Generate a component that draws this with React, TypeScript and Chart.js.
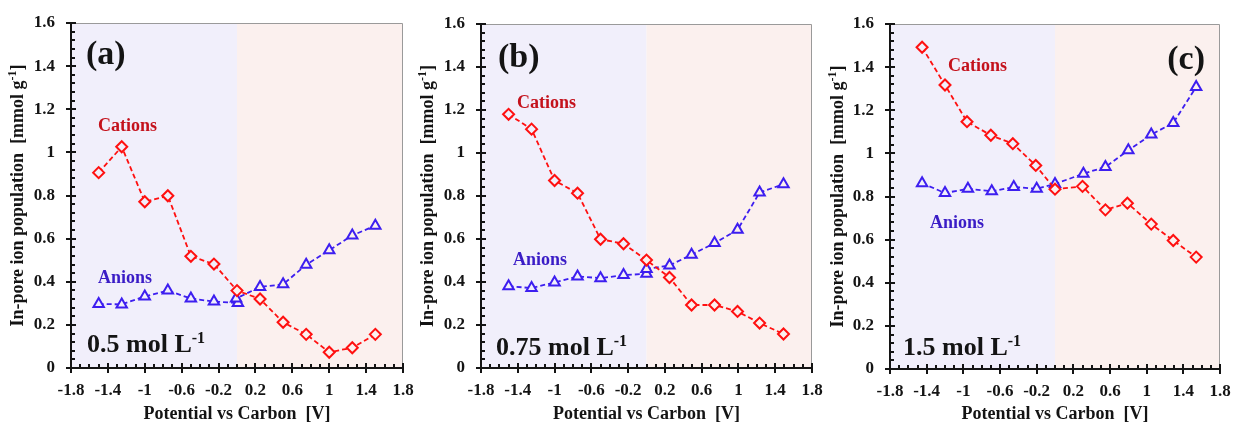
import React, { useEffect, useRef } from 'react';
import { Chart, registerables } from 'chart.js';

Chart.register(...registerables);

const SERIF = "'Liberation Serif', 'Times New Roman', serif";

// ---- Data: in-pore ion population [mmol/g] vs potential [V] ----

// (a) 0.5 mol/L
const cationPotentialA = [-1.5, -1.25, -1, -0.75, -0.5, -0.25, 0, 0.25, 0.5, 0.75, 1, 1.25, 1.5];
const cationPopulationA = [0.906, 1.026, 0.771, 0.799, 0.518, 0.482, 0.359, 0.32, 0.212, 0.156, 0.073, 0.094, 0.156];
const anionPotentialA = [-1.5, -1.25, -1, -0.75, -0.5, -0.25, 0.01, -0.01, 0.25, 0.5, 0.75, 1, 1.25, 1.5];
const anionPopulationA = [0.297, 0.295, 0.332, 0.359, 0.322, 0.308, 0.302, 0.322, 0.376, 0.388, 0.479, 0.546, 0.615, 0.66];

// (b) 0.75 mol/L
const cationPotentialB = [-1.5, -1.25, -1, -0.75, -0.5, -0.25, 0, 0.25, 0.49, 0.74, 0.99, 1.23, 1.49];
const cationPopulationB = [1.18, 1.111, 0.872, 0.813, 0.599, 0.578, 0.502, 0.421, 0.293, 0.293, 0.263, 0.209, 0.158];
const anionPotentialB = [-1.5, -1.25, -1, -0.75, -0.5, -0.25, 0, 0, 0.25, 0.49, 0.74, 0.99, 1.23, 1.49];
const anionPopulationB = [0.38, 0.372, 0.398, 0.426, 0.418, 0.432, 0.438, 0.461, 0.477, 0.527, 0.581, 0.643, 0.816, 0.855];

// (c) 1.5 mol/L
const cationPotentialC = [-1.45, -1.2, -0.96, -0.7, -0.46, -0.21, 0, 0.3, 0.55, 0.79, 1.05, 1.29, 1.54];
const cationPopulationC = [1.492, 1.317, 1.147, 1.084, 1.045, 0.944, 0.834, 0.847, 0.738, 0.769, 0.672, 0.596, 0.519];
const anionPotentialC = [-1.45, -1.2, -0.95, -0.69, -0.45, -0.2, 0, 0.31, 0.55, 0.8, 1.05, 1.29, 1.54];
const anionPopulationC = [0.862, 0.816, 0.836, 0.824, 0.844, 0.836, 0.858, 0.906, 0.937, 1.014, 1.087, 1.141, 1.308];

// ---- Text ----
const panelLetters = ['(a)', '(b)', '(c)'];
const concentrations = ['0.5', '0.75', '1.5'];
const seriesNames = ['Cations', 'Anions'];
const xTitle = 'Potential vs Carbon  [V]';
const yTitleBase = 'In-pore ion population  [mmol g';
const yTitleSup = '-1';
const yTitleEnd = ']';

// ---- Axis ranges ----
const X_MIN = -1.8, X_MAX = 1.8, X_STEP = 0.4, X_MINOR = 0.1;
const Y_MIN = 0, Y_MAX = 1.6, Y_STEP = 0.2, Y_MINOR = 0.04;

// ---- Styling ----
const RED = '#ff1010';
const BLUE = '#3d1ef0';
const CATION_TEXT = '#c4121c';
const ANION_TEXT = '#3a1cc6';
const LAVENDER = '#f1effb';
const PINK = '#fbf0ee';
const INK = '#141414';

type PanelLayout = {
  left: number; width: number; axisWidth: number; top: number; right: number; xAxisHeight: number;
  cation: [number, number]; anion: [number, number];
  letter: [number, number]; letterAlign: CanvasTextAlign; conc: [number, number];
};

// canvases overlap a little so the last x tick label of a panel is not cut off
const layouts: PanelLayout[] = [
  { left: 0, width: 424, axisWidth: 71, top: 23, right: 21, xAxisHeight: 57,
    cation: [27, 103], anion: [27, 255], letter: [15, 32], letterAlign: 'left', conc: [16, 329] },
  { left: 410, width: 424, axisWidth: 71, top: 24, right: 22, xAxisHeight: 57,
    cation: [36, 79], anion: [32, 236], letter: [17, 34], letterAlign: 'left', conc: [15, 331] },
  { left: 820, width: 414, axisWidth: 70, top: 24, right: 14, xAxisHeight: 56,
    cation: [58, 42], anion: [40, 199], letter: [315, 36], letterAlign: 'right', conc: [13, 331] },
];

const panelSeries = [
  { cx: cationPotentialA, cy: cationPopulationA, ax: anionPotentialA, ay: anionPopulationA },
  { cx: cationPotentialB, cy: cationPopulationB, ax: anionPotentialB, ay: anionPopulationB },
  { cx: cationPotentialC, cy: cationPopulationC, ax: anionPotentialC, ay: anionPopulationC },
];

const toPoints = (xs: number[], ys: number[]) => xs.map((x, i) => ({ x, y: ys[i] }));

const fmt = (v: number) => String(Math.round(v * 100) / 100);

// keep the plot box fixed: no extra room reserved for overhanging tick labels
const pinScale = (sc: any) => {
  sc.paddingLeft = 0;
  sc.paddingRight = 0;
  sc.paddingTop = 0;
  sc.paddingBottom = 0;
};

function decorPlugin(idx: number) {
  const lay = layouts[idx];
  return {
    id: 'panelDecor',
    beforeDatasetsDraw(chart: any) {
      const { ctx, chartArea: a, scales } = chart;
      const x0 = scales.x.getPixelForValue(0);
      ctx.save();
      ctx.fillStyle = LAVENDER;
      ctx.fillRect(a.left, a.top, x0 - a.left, a.bottom - a.top);
      ctx.fillStyle = PINK;
      ctx.fillRect(x0, a.top, a.right - x0, a.bottom - a.top);
      ctx.restore();
    },
    afterDatasetsDraw(chart: any) {
      const { ctx, chartArea: a, scales } = chart;
      const xs = scales.x, ys = scales.y;
      ctx.save();

      // frame: light top/right, heavy left/bottom axes
      ctx.strokeStyle = '#9a9a9a';
      ctx.lineWidth = 1;
      ctx.beginPath();
      ctx.moveTo(a.left, a.top + 0.5);
      ctx.lineTo(a.right - 0.5, a.top + 0.5);
      ctx.lineTo(a.right - 0.5, a.bottom);
      ctx.stroke();

      ctx.strokeStyle = INK;
      ctx.lineWidth = 2;
      ctx.beginPath();
      ctx.moveTo(a.left, a.top);
      ctx.lineTo(a.left, a.bottom);
      ctx.lineTo(a.right, a.bottom);
      ctx.stroke();

      // y ticks
      const nY = Math.round((Y_MAX - Y_MIN) / Y_MINOR);
      for (let i = 0; i <= nY; i++) {
        const v = Y_MIN + i * Y_MINOR;
        const py = Math.round(ys.getPixelForValue(v));
        const major = i % Math.round(Y_STEP / Y_MINOR) === 0;
        ctx.lineWidth = 2;
        ctx.beginPath();
        ctx.moveTo(major ? a.left - 5 : a.left, py);
        ctx.lineTo(a.left + (major ? 5 : 4), py);
        ctx.stroke();
      }
      // x ticks
      const nX = Math.round((X_MAX - X_MIN) / X_MINOR);
      for (let i = 0; i <= nX; i++) {
        const v = X_MIN + i * X_MINOR;
        const px = Math.round(xs.getPixelForValue(v));
        const major = i % Math.round(X_STEP / X_MINOR) === 0;
        ctx.lineWidth = 2;
        ctx.beginPath();
        ctx.moveTo(px, major ? a.bottom + 5 : a.bottom);
        ctx.lineTo(px, a.bottom - (major ? 5 : 4));
        ctx.stroke();
      }

      // y title with superscript
      ctx.save();
      ctx.translate(18, (a.top + a.bottom) / 2);
      ctx.rotate(-Math.PI / 2);
      ctx.fillStyle = INK;
      ctx.textBaseline = 'middle';
      ctx.textAlign = 'left';
      const baseFont = `bold 18px ${SERIF}`;
      const supFont = `bold 12px ${SERIF}`;
      ctx.font = baseFont;
      const wBase = ctx.measureText(yTitleBase).width;
      const wEnd = ctx.measureText(yTitleEnd).width;
      ctx.font = supFont;
      const wSup = ctx.measureText(yTitleSup).width;
      let tx = -(wBase + wSup + wEnd) / 2;
      ctx.font = baseFont;
      ctx.fillText(yTitleBase, tx, 0);
      tx += wBase;
      ctx.font = supFont;
      ctx.fillText(yTitleSup, tx, -5);
      tx += wSup;
      ctx.font = baseFont;
      ctx.fillText(yTitleEnd, tx, 0);
      ctx.restore();

      // series labels
      ctx.textBaseline = 'middle';
      ctx.textAlign = 'left';
      ctx.font = `bold 18px ${SERIF}`;
      ctx.fillStyle = CATION_TEXT;
      ctx.fillText(seriesNames[0], a.left + lay.cation[0], a.top + lay.cation[1]);
      ctx.fillStyle = ANION_TEXT;
      ctx.fillText(seriesNames[1], a.left + lay.anion[0], a.top + lay.anion[1]);

      // panel letter
      ctx.fillStyle = INK;
      ctx.font = `bold 34px ${SERIF}`;
      ctx.textAlign = lay.letterAlign;
      ctx.fillText(panelLetters[idx], a.left + lay.letter[0], a.top + lay.letter[1]);

      // concentration with superscript unit
      ctx.textAlign = 'left';
      ctx.textBaseline = 'alphabetic';
      const cx = a.left + lay.conc[0];
      const cy = a.top + lay.conc[1];
      const cText = `${concentrations[idx]} mol L`;
      ctx.font = `bold 26px ${SERIF}`;
      ctx.fillText(cText, cx, cy);
      const cw = ctx.measureText(cText).width;
      ctx.font = `bold 16px ${SERIF}`;
      ctx.fillText('-1', cx + cw, cy - 9);

      ctx.restore();
    },
  };
}

function Panel({ idx }: { idx: number }) {
  const ref = useRef<HTMLCanvasElement | null>(null);
  useEffect(() => {
    if (!ref.current) return;
    const lay = layouts[idx];
    const s = panelSeries[idx];
    const tickFont = { family: SERIF, size: 17, weight: 'bold' as const };
    const bg = (c: any) => (c.raw && c.raw.x < 0 ? LAVENDER : PINK);
    const chart = new Chart(ref.current, {
      type: 'scatter',
      data: {
        datasets: [
          {
            label: seriesNames[0],
            data: toPoints(s.cx, s.cy),
            showLine: true,
            borderColor: RED,
            borderWidth: 1.8,
            borderDash: [5, 3],
            pointStyle: 'rectRot',
            pointRadius: 5.5,
            pointBorderWidth: 2,
            pointBorderColor: RED,
            pointBackgroundColor: bg,
          },
          {
            label: seriesNames[1],
            data: toPoints(s.ax, s.ay),
            showLine: true,
            borderColor: BLUE,
            borderWidth: 1.8,
            borderDash: [5, 3],
            pointStyle: 'triangle',
            pointRadius: 6,
            pointBorderWidth: 2,
            pointBorderColor: BLUE,
            pointBackgroundColor: bg,
          },
        ],
      },
      options: {
        animation: false,
        responsive: false,
        devicePixelRatio: 1,
        layout: { padding: { top: lay.top, right: lay.right, left: 0, bottom: 0 } },
        plugins: { legend: { display: false }, tooltip: { enabled: false } },
        scales: {
          x: {
            type: 'linear',
            min: X_MIN,
            max: X_MAX,
            grid: { display: false, drawTicks: false },
            border: { display: false },
            ticks: {
              stepSize: X_STEP,
              font: tickFont,
              color: INK,
              padding: 12,
              maxRotation: 0,
              autoSkip: false,
              callback: (v: any) => fmt(Number(v)),
            },
            title: {
              display: true,
              text: xTitle,
              font: { family: SERIF, size: 18, weight: 'bold' },
              color: INK,
              padding: 0,
            },
            afterFit: (sc: any) => { sc.height = lay.xAxisHeight; pinScale(sc); },
          },
          y: {
            type: 'linear',
            min: Y_MIN,
            max: Y_MAX,
            grid: { display: false, drawTicks: false },
            border: { display: false },
            ticks: {
              stepSize: Y_STEP,
              font: tickFont,
              color: INK,
              padding: 16,
              callback: (v: any) => fmt(Number(v)),
            },
            afterFit: (sc: any) => { sc.width = lay.axisWidth; pinScale(sc); },
          },
        },
      },
      plugins: [decorPlugin(idx)],
    } as any);
    return () => chart.destroy();
  }, [idx]);
  const lay = layouts[idx];
  return (
    <canvas
      ref={ref}
      width={lay.width}
      height={425}
      style={{ position: 'absolute', left: lay.left, top: 0, width: lay.width, height: 425 }}
    />
  );
}

export default function App() {
  return (
    <div style={{ position: 'fixed', left: 0, top: 0, width: 1234, height: 425, background: '#ffffff', overflow: 'hidden' }}>
      <Panel idx={0} />
      <Panel idx={1} />
      <Panel idx={2} />
    </div>
  );
}
